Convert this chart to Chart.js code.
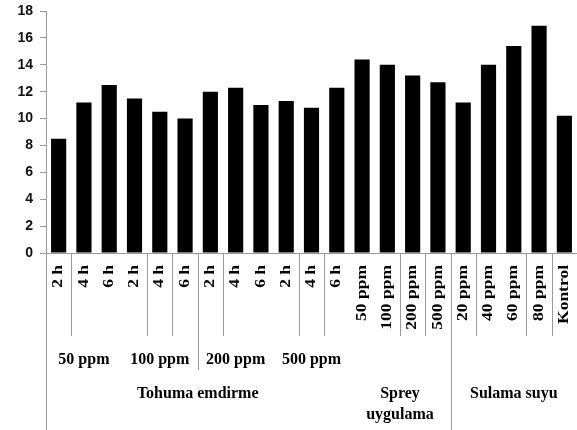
<!DOCTYPE html>
<html>
<head>
<meta charset="utf-8">
<script src="https://cdn.jsdelivr.net/npm/chart.js@4/dist/chart.umd.min.js"></script>
<style>
  html, body { margin: 0; padding: 0; background: #fff; }
  #wrap { width: 577px; height: 430px; }
</style>
</head>
<body>
<div id="wrap"><canvas id="chart"></canvas></div>
<script>
// bar labels (first level of the axis)
const tickLabels = ["2 h", "4 h", "6 h", "2 h", "4 h", "6 h", "2 h", "4 h", "6 h", "2 h", "4 h", "6 h",
  "50 ppm", "100 ppm", "200 ppm", "500 ppm", "20 ppm", "40 ppm", "60 ppm", "80 ppm", "Kontrol"];
const values = [8.5, 11.2, 12.5, 11.5, 10.5, 10.0, 12.0, 12.3, 11.0, 11.3, 10.8, 12.3,
  14.4, 14.0, 13.2, 12.7, 11.2, 14.0, 15.4, 16.9, 10.2];

// second level: doses under "Tohuma emdirme", 3 bars each
const doseLabels = ["50 ppm", "100 ppm", "200 ppm", "500 ppm"];
const doseSpan = 3;

// third level: application method, with the number of bars it covers
const methodLabels = [["Tohuma emdirme"], ["Sprey", "uygulama"], ["Sulama suyu"]];
const methodSpans = [12, 4, 5];

// separator lines below the axis, as category boundaries
const shortSeps = [1, 4, 5, 7, 10, 11, 14, 15, 17, 19, 20];
const midSeps = [6];
const longSeps = [16];

const yTicks = [0, 2, 4, 6, 8, 10, 12, 14, 16, 18];

const lineCol = "#9a9a9a";
const serif = "'Liberation Serif', 'Times New Roman', serif";

const axisLabels = {
  id: "axisLabels",
  afterDraw(chart) {
    const ctx = chart.ctx;
    const x = chart.scales.x;
    const n = tickLabels.length;
    const w = (x.right - x.left) / n;
    const base = chart.chartArea.bottom;
    const H = chart.height;
    const edge = k => Math.round(x.left + k * w) + 0.5;

    ctx.save();
    ctx.strokeStyle = lineCol;
    ctx.lineWidth = 1;
    const vline = (px, y2) => {
      ctx.beginPath();
      ctx.moveTo(px, base);
      ctx.lineTo(px, y2);
      ctx.stroke();
    };
    shortSeps.forEach(k => vline(edge(k), base + 83));
    midSeps.forEach(k => vline(edge(k), base + 117));
    longSeps.forEach(k => vline(edge(k), H));
    vline(Math.round(x.left) + 0.5, H);

    // rotated bar labels
    ctx.fillStyle = "#000";
    ctx.font = "bold 14px " + serif;
    ctx.textAlign = "right";
    ctx.textBaseline = "middle";
    tickLabels.forEach((t, i) => {
      const px = x.getPixelForValue(i);
      ctx.save();
      ctx.translate(px, base + 12);
      ctx.rotate(-Math.PI / 2);
      ctx.scale(1.25, 1);
      ctx.fillText(t, 0, 0);
      ctx.restore();
    });

    // dose labels
    ctx.font = "bold 16px " + serif;
    ctx.textAlign = "center";
    doseLabels.forEach((t, g) => {
      const cx = x.left + (g * doseSpan + doseSpan / 2) * w;
      ctx.fillText(t, cx, base + 107);
    });

    // method labels
    let start = 0;
    methodLabels.forEach((lines, g) => {
      const cx = x.left + (start + methodSpans[g] / 2) * w;
      lines.forEach((t, j) => ctx.fillText(t, cx, base + 141 + j * 21));
      start += methodSpans[g];
    });
    ctx.restore();
  }
};

new Chart(document.getElementById("chart"), {
  type: "bar",
  data: {
    labels: tickLabels,
    datasets: [{
      data: values,
      backgroundColor: "#000",
      borderWidth: 0,
      barPercentage: 0.6,
      categoryPercentage: 1.0
    }]
  },
  options: {
    responsive: true,
    maintainAspectRatio: false,
    animation: false,
    layout: { padding: 0 },
    plugins: { legend: { display: false }, tooltip: { enabled: false } },
    scales: {
      x: {
        ticks: { display: false },
        grid: { display: false },
        border: { color: lineCol },
        afterFit(scale) { scale.height = 177; }
      },
      y: {
        min: 0,
        max: 18,
        afterBuildTicks(scale) { scale.ticks = yTicks.map(v => ({ value: v })); },
        ticks: {
          color: "#111",
          padding: 7,
          font: { family: "'Liberation Sans', Arial, sans-serif", size: 14, weight: "bold" }
        },
        grid: { drawOnChartArea: false, tickLength: 6, color: lineCol },
        border: { color: lineCol },
        afterFit(scale) {
          scale.width = 46;
          scale.paddingTop = 11;
          scale.paddingBottom = 0;
        }
      }
    }
  },
  plugins: [axisLabels]
});
</script>
</body>
</html>
